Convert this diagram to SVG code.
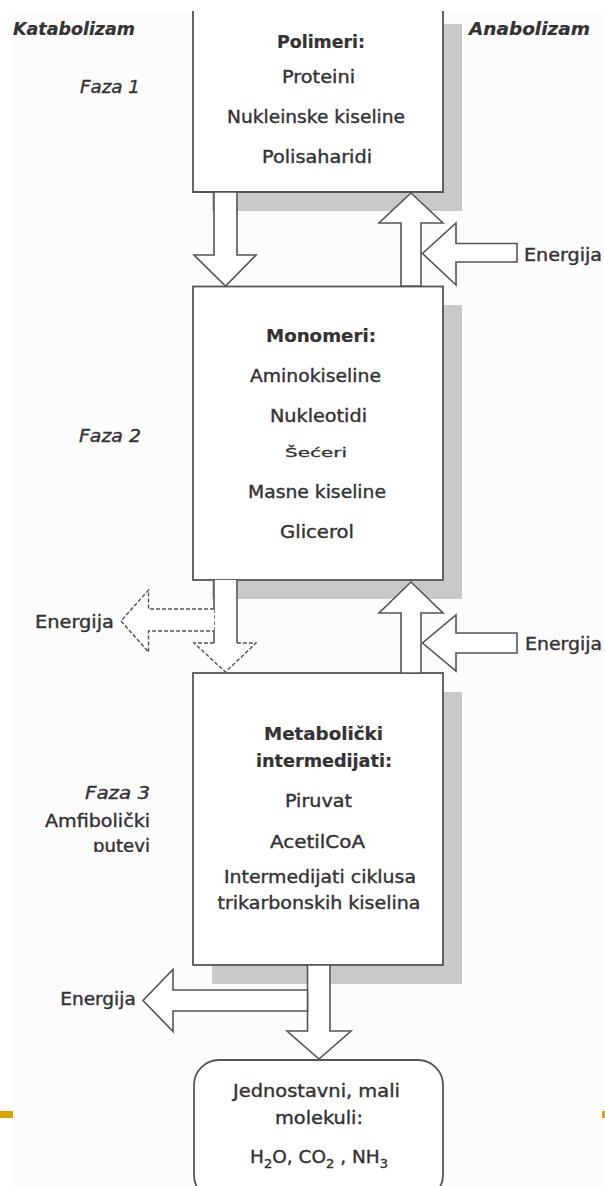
<svg xmlns="http://www.w3.org/2000/svg" width="605" height="1186" viewBox="0 0 605 1186">
<style>
.t{font-family:"DejaVu Sans","Liberation Sans",sans-serif;font-size:18px;fill:#333;stroke:#333;stroke-width:0.4;text-anchor:middle}
.b{font-weight:bold;font-size:17.5px;stroke-width:0.2}
.i{font-style:italic;text-anchor:end}
.bi{font-style:italic;font-weight:bold;font-size:17px;text-anchor:start;stroke-width:0.2}
.e{font-size:18px}
.box{fill:#fff;stroke:#555;stroke-width:1.8}
.sh{fill:#c9c9c9}
.ar{fill:#fff;stroke:#555;stroke-width:1.6;stroke-linejoin:miter}
.ln{fill:none;stroke:#555;stroke-width:1.6}
.dash{fill:none;stroke:#555;stroke-width:1.4;stroke-dasharray:4 2}
.mk{fill:#d9a400}
</style>
<defs>
<clipPath id="cp"><rect x="60" y="820" width="100" height="32"/></clipPath>
</defs>
<rect x="0" y="0" width="605" height="1186" fill="#fff"/>
<rect x="12" y="11" width="593" height="1175" fill="#fcfcfc"/>

<g id="side-labels">
<text class="t bi" x="13" y="35" textLength="122" lengthAdjust="spacingAndGlyphs">Katabolizam</text>
<text class="t bi" x="469" y="35" textLength="121" lengthAdjust="spacingAndGlyphs">Anabolizam</text>
<text class="t i" x="140" y="93" textLength="60" lengthAdjust="spacingAndGlyphs">Faza 1</text>
<text class="t i" x="141" y="442" textLength="62" lengthAdjust="spacingAndGlyphs">Faza 2</text>
<text class="t i" x="150" y="799" textLength="65" lengthAdjust="spacingAndGlyphs">Faza 3</text>
<text class="t" x="150" y="827" style="text-anchor:end" textLength="105" lengthAdjust="spacingAndGlyphs">Amfibolički</text>
<text class="t" x="150" y="852" style="text-anchor:end" clip-path="url(#cp)" textLength="57" lengthAdjust="spacingAndGlyphs">putevi</text>
</g>

<g id="shadows">
<rect class="sh" x="212" y="24" width="250" height="187"/>
<rect class="sh" x="212" y="305" width="250" height="294"/>
<rect class="sh" x="212" y="692" width="250" height="292"/>
</g>

<g id="node-polimeri">
<path class="box" d="M193,11 V192 H443 V11"/>
<text class="t b" x="321" y="47.5" textLength="88" lengthAdjust="spacingAndGlyphs">Polimeri:</text>
<text class="t" x="318.5" y="82.5" textLength="73" lengthAdjust="spacingAndGlyphs">Proteini</text>
<text class="t" x="316" y="123" textLength="178" lengthAdjust="spacingAndGlyphs">Nukleinske kiseline</text>
<text class="t" x="317" y="163" textLength="110" lengthAdjust="spacingAndGlyphs">Polisaharidi</text>
</g>

<g id="node-monomeri">
<rect class="box" x="193" y="286.5" width="250" height="293.5"/>
<text class="t b" x="321" y="341.5" textLength="110" lengthAdjust="spacingAndGlyphs">Monomeri:</text>
<text class="t" x="315.5" y="381.5" textLength="131" lengthAdjust="spacingAndGlyphs">Aminokiseline</text>
<text class="t" x="318.5" y="421.5" textLength="97" lengthAdjust="spacingAndGlyphs">Nukleotidi</text>
<text class="t" transform="translate(316,456.5) scale(1,0.7)" x="0" y="0" textLength="62" lengthAdjust="spacingAndGlyphs">Šećeri</text>
<text class="t" x="317" y="498" textLength="138" lengthAdjust="spacingAndGlyphs">Masne kiseline</text>
<text class="t" x="317" y="538" textLength="74" lengthAdjust="spacingAndGlyphs">Glicerol</text>
</g>

<g id="node-intermedijati">
<rect class="box" x="193" y="673" width="250" height="292"/>
<text class="t b" x="323.5" y="740" textLength="119" lengthAdjust="spacingAndGlyphs">Metabolički</text>
<text class="t b" x="324" y="767" textLength="136" lengthAdjust="spacingAndGlyphs">intermedijati:</text>
<text class="t" x="318.5" y="807" textLength="67" lengthAdjust="spacingAndGlyphs">Piruvat</text>
<text class="t" x="317.5" y="848" textLength="95" lengthAdjust="spacingAndGlyphs">AcetilCoA</text>
<text class="t" x="320" y="883" textLength="192" lengthAdjust="spacingAndGlyphs">Intermedijati ciklusa</text>
<text class="t" x="319" y="909" textLength="203" lengthAdjust="spacingAndGlyphs">trikarbonskih kiselina</text>
</g>

<g id="node-molekuli">
<rect class="box" x="194" y="1060" width="249" height="140" rx="25" ry="25"/>
<text class="t" x="316.5" y="1097" textLength="167" lengthAdjust="spacingAndGlyphs">Jednostavni, mali</text>
<text class="t" x="319" y="1124" textLength="88" lengthAdjust="spacingAndGlyphs">molekuli:</text>
<text class="t" x="319" y="1163" style="font-size:18.5px">H<tspan font-size="13" dy="5">2</tspan><tspan dy="-5">O, CO</tspan><tspan font-size="13" dy="5">2</tspan><tspan dy="-5"> , NH</tspan><tspan font-size="13" dy="5">3</tspan></text>
</g>

<g id="connectors">
<!-- phase 1 -> 2 -->
<polygon class="ar" points="214,192 214,255 194,255 225.5,286 256,255 237,255 237,192"/>
<polygon class="ar" points="401,286 401,223 379,223 411,193 443,223 421,223 421,286"/>
<polygon class="ar" points="517,243.5 456,243.5 456,223 422.5,253.5 456,285 456,262 517,262"/>
<text class="t e" x="563" y="261" textLength="78" lengthAdjust="spacingAndGlyphs">Energija</text>

<!-- phase 2 -> 3 -->
<polygon points="214,580 214,643 194,643 225.5,672 256,643 237,643 237,580" fill="#fff"/>
<path class="ln" d="M214,580 V609 M214,631 V643 M237,580 V643"/>
<path class="dash" d="M214,609 V631 M214,643 H194 L225.5,672 L256,643 H237"/>
<path d="M214,609 H148.5 V590 L121,621 L148.5,652 V631 H214 Z" fill="#fff"/>
<path class="dash" d="M214,609 H148.5 V590 L121,621 L148.5,652 V631 H214"/>
<text class="t e" x="74.5" y="628" textLength="79" lengthAdjust="spacingAndGlyphs">Energija</text>
<polygon class="ar" points="401,673 401,613 379,613 411,582 443,613 421,613 421,673"/>
<polygon class="ar" points="517,633 456,633 456,615 422.5,643 456,671 456,653 517,653"/>
<text class="t e" x="563.5" y="650" textLength="77" lengthAdjust="spacingAndGlyphs">Energija</text>

<!-- phase 3 -> molecules -->
<polygon class="ar" points="307.5,965 307.5,1031 287,1031 319,1059 351,1031 330,1031 330,965"/>
<polygon class="ar" points="307.5,990 173,990 173,969.5 143,1000.5 173,1031.5 173,1011 307.5,1011"/>
<text class="t e" x="98" y="1005" textLength="75.5" lengthAdjust="spacingAndGlyphs">Energija</text>
</g>

<rect class="mk" x="0" y="1111" width="13" height="7"/>
<rect class="mk" x="602" y="1111" width="3" height="7"/>
</svg>
